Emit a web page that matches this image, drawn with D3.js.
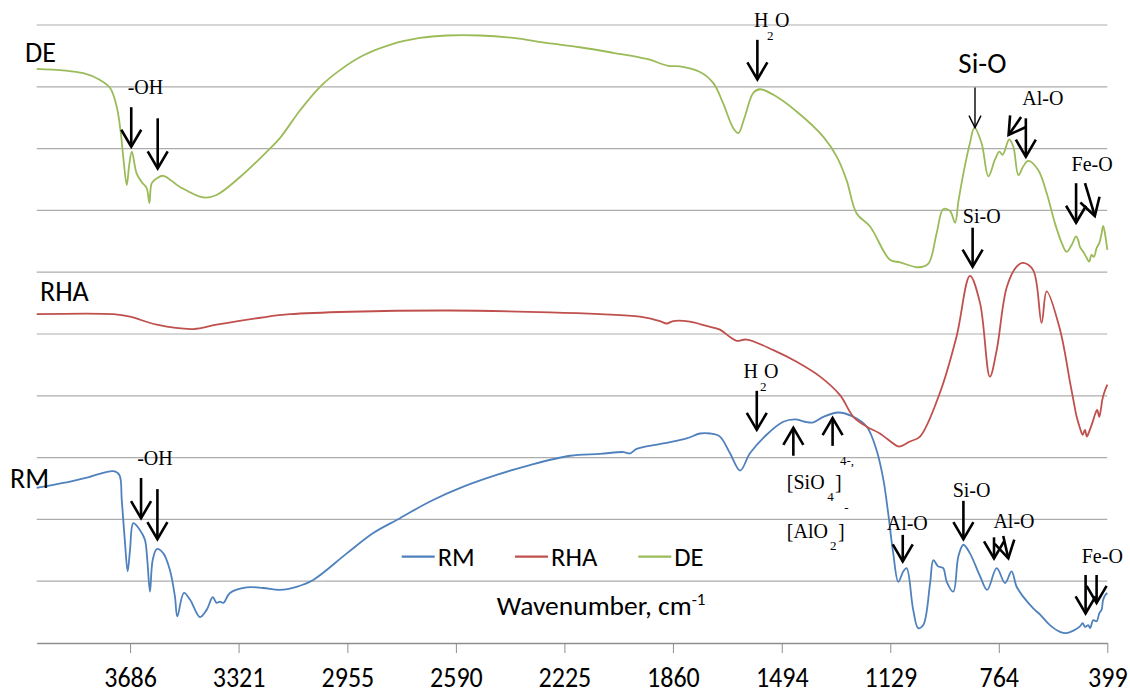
<!DOCTYPE html>
<html>
<head>
<meta charset="utf-8">
<script src="https://cdn.jsdelivr.net/npm/d3@7"></script>
<style>
  body { margin: 0; background: #fff; }
  svg { display: block; }
  .sans { font-family: Carlito, Lato, "Open Sans", sans-serif; }
  .serif { font-family: "Liberation Serif", "DejaVu Serif", serif; }
</style>
</head>
<body>
<div id="chart"></div>
<script>
(function() {

    var width = 1130,
    height = 694;

    // wavenumber (cm-1) and relative transmittance
    var deWave = [4000, 3843, 3787, 3753, 3731, 3717, 3709, 3697, 3689, 3680, 3664, 3647, 3630, 3621, 3613, 3596, 3574, 3518, 3440, 3395, 3316, 3226, 3182, 3114, 3047, 2980, 2901, 2812, 2711, 2621, 2509, 2397, 2285, 2173, 2061, 1948, 1876, 1836, 1769, 1724, 1691, 1657, 1640, 1618, 1590, 1567, 1522, 1444, 1354, 1309, 1276, 1242, 1197, 1130, 1096, 1035, 1001, 973, 951, 928, 911, 900, 883, 861, 846, 822, 799, 777, 762, 751, 729, 715, 698, 682, 665, 631, 603, 575, 552, 536, 519, 504, 497, 491, 480, 468, 460, 452, 444, 435, 426, 418, 413, 407, 399]
    var deValue = [92.9, 92.2, 91.1, 89.8, 86.8, 82.5, 78.7, 74.1, 77.3, 79.5, 76.0, 74.6, 73.6, 71.2, 74.4, 75.2, 75.6, 73.8, 72.1, 72.5, 75.4, 79.5, 81.7, 86.2, 90.0, 92.7, 95.1, 96.8, 97.9, 98.3, 98.3, 97.9, 97.1, 96.4, 95.5, 94.5, 93.4, 93.3, 92.4, 90.6, 87.3, 83.3, 82.5, 85.2, 89.0, 89.6, 88.7, 86.0, 81.9, 78.7, 74.9, 69.5, 67.4, 62.0, 61.6, 60.8, 61.4, 66.3, 70.2, 69.9, 68.0, 71.4, 76.0, 80.9, 83.4, 80.9, 75.5, 78.2, 79.5, 79.0, 81.5, 80.3, 75.7, 77.1, 78.0, 76.5, 72.8, 67.9, 64.7, 63.3, 64.4, 65.8, 65.2, 64.1, 63.3, 62.3, 61.7, 62.8, 62.5, 63.9, 64.7, 66.3, 67.5, 66.3, 63.6]

    var rhaWave = [4000, 3742, 3686, 3596, 3473, 3395, 3238, 3148, 2946, 2610, 2274, 2105, 1971, 1904, 1881, 1859, 1803, 1747, 1702, 1668, 1646, 1612, 1522, 1444, 1365, 1298, 1253, 1208, 1164, 1107, 1096, 1063, 1029, 962, 906, 861, 827, 794, 771, 737, 704, 682, 648, 620, 603, 558, 524, 513, 502, 491, 482, 474, 468, 460, 446, 441, 433, 426, 420, 416, 410, 399]
    var rhaValue = [53.2, 53.2, 52.8, 51.5, 50.8, 51.5, 52.7, 53.2, 53.6, 53.8, 53.5, 53.2, 52.8, 52.1, 51.7, 52.1, 52.0, 51.3, 50.7, 49.5, 48.9, 49.1, 47.4, 45.5, 43.1, 40.1, 36.6, 35.0, 33.9, 31.9, 31.8, 32.6, 33.4, 40.5, 49.6, 59.4, 55.0, 43.1, 47.4, 57.6, 60.9, 61.5, 60.3, 51.8, 56.9, 50.7, 42.1, 39.3, 36.6, 34.8, 33.7, 34.5, 33.4, 34.2, 36.1, 36.9, 37.7, 36.6, 38.0, 39.3, 40.4, 41.8]

    var rmWave = [4000, 3911, 3821, 3742, 3722, 3714, 3703, 3694, 3686, 3675, 3653, 3636, 3628, 3619, 3610, 3596, 3574, 3552, 3535, 3527, 3505, 3484, 3451, 3428, 3408, 3395, 3384, 3372, 3350, 3294, 3238, 3182, 3126, 3070, 2957, 2868, 2778, 2677, 2565, 2453, 2341, 2206, 2105, 2027, 2004, 1982, 1892, 1814, 1769, 1735, 1702, 1668, 1634, 1601, 1545, 1489, 1449, 1416, 1388, 1354, 1304, 1253, 1208, 1175, 1152, 1136, 1119, 1102, 1085, 1074, 1052, 1035, 1018, 995, 984, 968, 951, 939, 917, 900, 883, 861, 827, 803, 771, 743, 721, 704, 682, 648, 625, 592, 558, 536, 513, 491, 482, 474, 463, 457, 446, 435, 426, 418, 413, 405, 399]
    var rmValue = [25.1, 25.9, 26.9, 27.8, 27.2, 23.2, 16.2, 11.6, 15.1, 19.4, 18.3, 16.7, 13.4, 8.3, 13.4, 15.2, 14.5, 11.8, 7.5, 4.3, 8.1, 7.0, 4.2, 5.4, 7.4, 6.5, 6.7, 6.5, 8.1, 9.0, 8.9, 8.6, 9.1, 10.2, 14.5, 17.8, 20.2, 22.9, 25.3, 27.2, 28.8, 30.3, 30.6, 30.9, 30.7, 31.4, 32.3, 33.1, 33.9, 33.9, 33.4, 30.7, 27.9, 30.7, 33.7, 35.8, 36.2, 35.8, 35.7, 36.6, 37.3, 36.6, 35.0, 31.2, 26.4, 21.0, 14.5, 9.9, 11.6, 12.1, 5.4, 2.4, 2.9, 9.7, 13.4, 12.4, 12.1, 9.9, 8.3, 14.0, 15.9, 14.5, 10.8, 8.6, 12.1, 9.7, 11.6, 9.1, 7.5, 5.6, 4.6, 2.9, 1.8, 1.6, 2.0, 2.7, 3.2, 2.6, 2.9, 2.4, 3.7, 3.5, 4.8, 5.4, 7.0, 7.8, 8.1]

    var seriesNames = ["RM", "RHA", "DE"]
    var seriesColors = ["#4F81BD", "#C0504D", "#9BBB59"]
    var tickLabels = [3686, 3321, 2955, 2590, 2225, 1860, 1494, 1129, 764, 399]

    // band assignments: [tail wave, tail value, tip wave, tip value, bold?]
    var arrows = [
        [3682, 86.7, 3682, 80.3, 1], [3593, 84.9, 3593, 76.8, 1],
        [1576, 97.6, 1576, 91.2, 1], [844, 89.9, 844, 83.4, 0],
        [689, 85.1, 731, 82.2, 1], [673, 84.9, 673, 78.7, 1],
        [504, 74.4, 504, 68.0, 1], [474, 74.4, 441, 69.1, 1],
        [852, 67.2, 852, 60.9, 1],
        [3649, 26.7, 3649, 20.2, 1], [3594, 24.9, 3594, 16.8, 1],
        [1578, 40.8, 1578, 34.5, 1], [1455, 30.3, 1455, 34.8, 1],
        [1323, 31.9, 1323, 36.4, 1], [1087, 17.5, 1087, 13.2, 1],
        [883, 23.0, 883, 16.8, 1], [780, 17.1, 780, 13.7, 1],
        [749, 17.3, 732, 13.7, 1], [472, 11.0, 472, 4.8, 1],
        [435, 11.0, 435, 6.5, 1]
    ]
    // [text, wave, value, font class, size]
    var labels = [
        ["DE", 4039, 94.0, "sans", 28], ["RHA", 3989, 55.4, "sans", 28],
        ["RM", 4090, 25.1, "sans", 28],
        ["-OH", 3694, 88.8, "serif", 20], ["H", 1587, 99.7, "serif", 20],
        ["O", 1517, 99.7, "serif", 20], ["2", 1544, 97.6, "serif", 13],
        ["Si-O", 900, 92.3, "sans", 29], ["Al-O", 685, 87.1, "serif", 20],
        ["Fe-O", 519, 76.4, "serif", 20], ["Si-O", 885, 67.9, "serif", 20],
        ["-OH", 3662, 28.8, "serif", 20], ["H", 1623, 42.8, "serif", 20],
        ["O", 1554, 42.8, "serif", 20], ["2", 1567, 40.7, "serif", 13],
        ["[SiO", 1477, 24.9, "serif", 20], ["4", 1341, 23.0, "serif", 13],
        ["]", 1315, 24.9, "serif", 20], ["4-,", 1298, 28.8, "serif", 13],
        ["[AlO", 1477, 16.95, "serif", 20], ["2", 1332, 15.05, "serif", 13],
        ["]", 1305, 16.95, "serif", 20], ["-", 1284, 21.2, "serif", 13],
        ["Al-O", 1141, 18.3, "serif", 20], ["Si-O", 919, 23.7, "serif", 20],
        ["Al-O", 782, 18.6, "serif", 20], ["Fe-O", 485, 13.0, "serif", 20]
    ]

    var svg = d3.select("#chart")
    .append("svg")
    .attr("width", width)
    .attr("height", height)

    var x = d3.scaleLinear().domain([4000, 399]).range([36.7, 1107.3])
    var y = d3.scaleLinear().domain([0, 100]).range([643, 25])

    // horizontal gridlines
    svg.append("g")
    .selectAll("line")
    .data(d3.range(10, 101, 10))
    .enter().append("line")
    .attr("x1", x(4000))
    .attr("x2", x(399))
    .attr("y1", function(d){ return y(d) })
    .attr("y2", function(d){ return y(d) })
    .attr("stroke", "#adadad")
    .attr("stroke-width", 1.2)

    var xAxis = d3.axisBottom(x)
    .tickValues(tickLabels)
    .tickFormat(function(d){ return d })
    .tickSize(10)
    .tickSizeOuter(0)

    var axisG = svg.append("g")
    .attr("transform", "translate(0," + y(0) + ")")
    .call(xAxis)

    axisG.select(".domain").attr("stroke", "#8e8e8e").attr("stroke-width", 1.6)
    axisG.selectAll(".tick line").attr("stroke", "#8e8e8e")
    axisG.selectAll(".tick text")
    .attr("class", "sans")
    .attr("y", 39.5)
    .attr("dy", null)
    .attr("fill", "#000")
    .attr("font-size", 26)
    .attr("transform", "scale(1,1.12)")

    var series = [
        { name: "RM", wave: rmWave, value: rmValue },
        { name: "RHA", wave: rhaWave, value: rhaValue },
        { name: "DE", wave: deWave, value: deValue }
    ]

    var line = d3.line()
    .x(function(d){ return x(d[0]) })
    .y(function(d){ return y(d[1]) })
    .curve(d3.curveCatmullRom.alpha(0.5))

    svg.append("g")
    .selectAll("path")
    .data(series)
    .enter().append("path")
    .attr("fill", "none")
    .attr("stroke", function(d, i){ return seriesColors[i] })
    .attr("stroke-width", 1.8)
    .attr("stroke-linejoin", "round")
    .attr("d", function(d){
        return line(d.wave.map(function(w, i){ return [w, d.value[i]] }))
    })

    // arrows
    var arrowG = svg.append("g").attr("stroke", "#000").attr("fill", "none")
    arrows.forEach(function(a){
        var x1 = x(a[0]), y1 = y(a[1]), x2 = x(a[2]), y2 = y(a[3])
        var len = Math.sqrt((x2 - x1) * (x2 - x1) + (y2 - y1) * (y2 - y1))
        var ux = (x2 - x1) / len, uy = (y2 - y1) / len
        var hl = a[4] ? 17 : 12, hw = a[4] ? 10 : 6
        var sw = a[4] ? 2.6 : 1.4
        arrowG.append("line")
        .attr("x1", x1).attr("y1", y1).attr("x2", x2).attr("y2", y2)
        .attr("stroke-width", sw)
        arrowG.append("path")
        .attr("stroke-width", sw)
        .attr("d", "M" + (x2 - ux * hl - uy * hw) + "," + (y2 - uy * hl + ux * hw) +
            "L" + x2 + "," + y2 +
            "L" + (x2 - ux * hl + uy * hw) + "," + (y2 - uy * hl - ux * hw))
    })

    svg.append("g")
    .selectAll("text")
    .data(labels)
    .enter().append("text")
    .attr("class", function(d){ return d[3] })
    .attr("x", function(d){ return x(d[1]) })
    .attr("y", function(d){ return y(d[2]) })
    .attr("font-size", function(d){ return d[4] })
    .attr("fill", "#000")
    .text(function(d){ return d[0] })

    // legend
    var legendX = [401.7, 515, 638.3]
    var legend = svg.append("g")
    .selectAll("g")
    .data(seriesNames)
    .enter().append("g")
    .attr("transform", function(d, i){ return "translate(" + legendX[i] + ",556.7)" })

    legend.append("line")
    .attr("x1", 0).attr("x2", 33)
    .attr("stroke", function(d, i){ return seriesColors[i] })
    .attr("stroke-width", 2.2)

    legend.append("text")
    .attr("class", "sans")
    .attr("x", 36)
    .attr("y", 9.3)
    .attr("font-size", 26.5)
    .text(function(d){ return d })

    var title = svg.append("text")
    .attr("class", "sans")
    .attr("x", 496.7)
    .attr("y", 615)
    .attr("font-size", 27.5)
    .attr("fill", "#000")
    title.append("tspan").text("Wavenumber, cm")
    title.append("tspan").attr("font-size", 17).attr("dy", -10).text("-1")

})();
</script>
</body>
</html>
